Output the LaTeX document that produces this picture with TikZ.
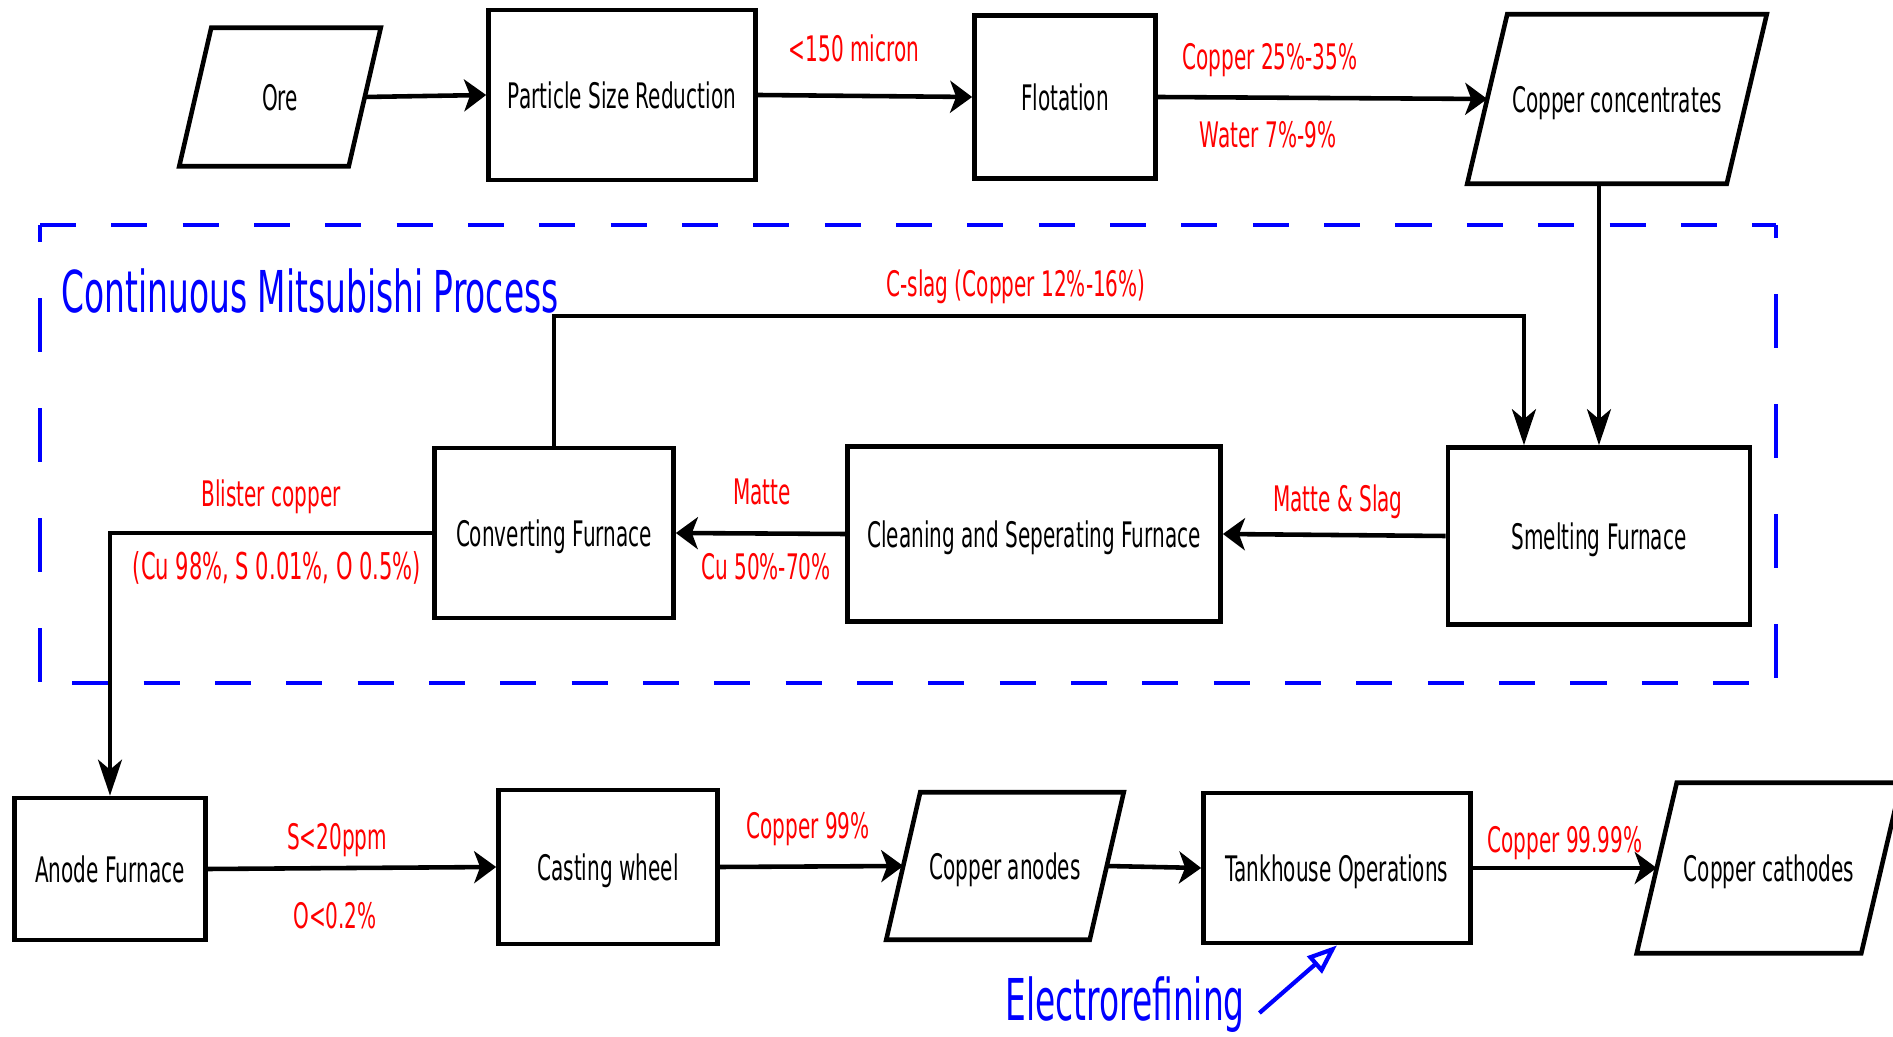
\documentclass[tikz,border=0pt]{standalone}
\usepackage{fontspec}
\newfontfamily\diafont[FakeStretch=0.57]{DejaVu Sans}
\usepackage{tikz}
\usetikzlibrary{arrows.meta, calc}
\tikzset{
  box/.style={draw, line width=1.3pt, inner sep=0pt, text depth=0pt, align=center, font=\diafont\fontsize{10}{12}\selectfont},
  para/.style={inner sep=0pt, text depth=0pt, align=center, font=\diafont\fontsize{10}{12}\selectfont},
  note/.style={red, font=\diafont\fontsize{10}{12}\selectfont},
  heading/.style={blue, inner sep=0pt, font=\diafont\fontsize{16.4}{19}\selectfont},
  flow/.style={line width=1.3pt, -{Stealth[length=2.2mm, width=3.2mm, inset=0.6mm]}},
  drop/.style={line width=1.1pt, -{Stealth[length=3.6mm, width=2.4mm, inset=1mm]}},
  group/.style={blue, line width=1.3pt}
}

\begin{document}
\begin{tikzpicture}[x=0.01cm, y=-0.01cm]
  \useasboundingbox (0,0) rectangle (1893,1037);

  \draw[group, dash pattern=on 0.36cm off 0.353cm] (40,225) -- (1776,225);
  \draw[group, dash pattern=on 0.36cm off 0.353cm, dash phase=0.39cm] (40,683) -- (1776,683);
  \draw[group, dash pattern=on 0.54cm off 0.56cm, dash phase=0.37cm] (40,225) -- (40,683);
  \draw[group, dash pattern=on 0.54cm off 0.56cm, dash phase=0.41cm] (1776,225) -- (1776,683);
  \node[heading, anchor=west] (title) at (61,291) {Continuous Mitsubishi Process};

  \node[para, minimum width=1.68cm, minimum height=1.37cm] (ore) at (280,97) {Ore};
  \node[box, minimum width=2.67cm, minimum height=1.70cm] (psr) at (622,95) {Particle Size Reduction};
  \node[box, minimum width=1.81cm, minimum height=1.63cm] (flot) at (1065,97) {Flotation};
  \node[para, minimum width=2.58cm, minimum height=1.68cm] (conc) at (1617,99) {Copper concentrates};
  \node[box, minimum width=2.39cm, minimum height=1.70cm] (conv) at (554,533) {Converting Furnace};
  \node[box, minimum width=3.73cm, minimum height=1.75cm] (clean) at (1034,534) {Cleaning and Seperating Furnace};
  \node[box, minimum width=3.02cm, minimum height=1.77cm] (smelt) at (1599,536) {Smelting Furnace};
  \node[box, minimum width=1.91cm, minimum height=1.42cm] (anode) at (110,869) {Anode Furnace};
  \node[box, minimum width=2.19cm, minimum height=1.54cm] (cast) at (608,867) {Casting wheel};
  \node[para, minimum width=2.02cm, minimum height=1.46cm] (anodes) at (1005,866) {Copper anodes};
  \node[box, minimum width=2.67cm, minimum height=1.50cm] (tank) at (1337,868) {Tankhouse Operations};
  \node[para, minimum width=2.23cm, minimum height=1.69cm] (cath) at (1769,868) {Copper cathodes};

  \foreach \n/\s in {ore/16, conc/20, anodes/17, cath/20}
    \draw[line width=1.3pt] ([shift={(\s,0)}]\n.north west) -- ([shift={(\s,0)}]\n.north east)
      -- ([shift={(-\s,0)}]\n.south east) -- ([shift={(-\s,0)}]\n.south west) -- cycle;

  \draw[flow] (ore.east) -- (psr.west);
  \draw[flow] (psr.east) -- (flot.west);
  \draw[flow] (flot.east) -- (conc.west);
  \draw[drop] (conc.south -| smelt.north) -- (smelt.north);
  \draw[drop] (conv.north) -- ++(0,-130) -| ([xshift=-0.75cm]smelt.north);
  \draw[flow] (smelt.west) -- (clean.east);
  \draw[flow] (clean.west) -- (conv.east);
  \draw[drop] (conv.west) -| (anode.north);
  \draw[flow] (anode.east) -- (cast.west);
  \draw[flow] (cast.east) -- (anodes.west);
  \draw[flow] (anodes.east) -- (tank.west);
  \draw[flow] (tank.east) -- (cath.west);

  \node[note] (micron) at (854,48) {<150 micron};
  \node[note] (cu1) at (1270,60) {Copper 25\%-35\%};
  \node[note] (water) at (1268,135) {Water 7\%-9\%};
  \node[note] (cslag) at (1016,287) {C-slag (Copper 12\%-16\%)};
  \node[note] (mslag) at (1338,502) {Matte \& Slag};
  \node[note] (matte) at (762,492) {Matte};
  \node[note] (cu2) at (766,567) {Cu 50\%-70\%};
  \node[note] (blister) at (271,497) {Blister copper};
  \node[note, font=\diafont\fontsize{10.5}{12}\selectfont] (blcomp) at (277,568) {(Cu 98\%, S 0.01\%, O 0.5\%)};
  \node[note] (sppm) at (337,840) {S<20ppm};
  \node[note] (oxy) at (335,916) {O<0.2\%};
  \node[note] (cu3) at (808,829) {Copper 99\%};
  \node[note] (cu4) at (1565,843) {Copper 99.99\%};

  \node[heading] (elec) at (1125,1005) {Electrorefining};
  \draw[blue, line width=1.2pt, -{Triangle[open, length=3mm, width=2.2mm]}] ([shift={(14,8)}]elec.east) -- (tank.south);
\end{tikzpicture}
\end{document}
